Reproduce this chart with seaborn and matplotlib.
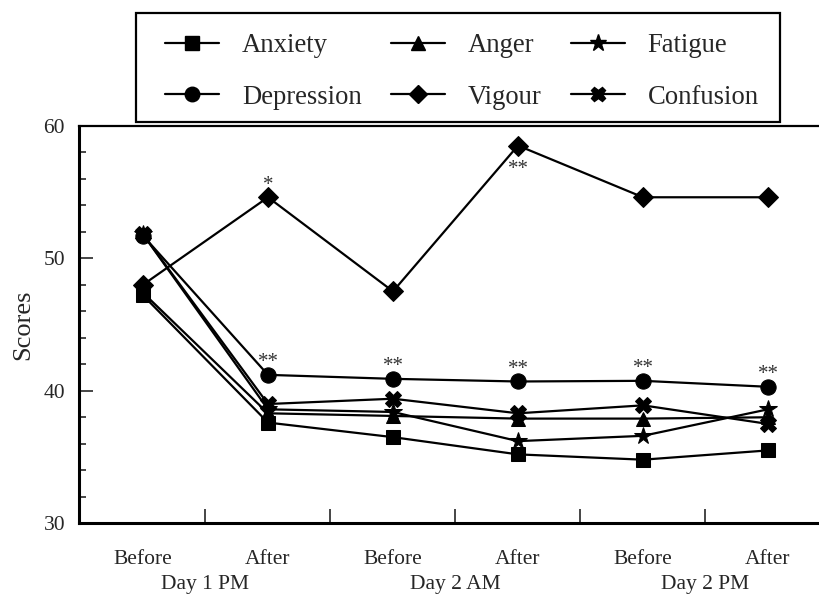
import numpy as np
import pandas as pd
import matplotlib
matplotlib.use("Agg")
import matplotlib.pyplot as plt
import matplotlib.transforms as mtransforms
from matplotlib.patches import Rectangle
from matplotlib.ticker import MultipleLocator
import seaborn as sns

# --- data ---
time_labels = ['Before', 'After', 'Before', 'After', 'Before', 'After']
session_labels = ['Day 1 PM', 'Day 2 AM', 'Day 2 PM']

anxiety = [47.2, 37.6, 36.5, 35.2, 34.8, 35.5]
anger = [47.4, 38.3, 38.1, 37.9, 37.9, 38.0]
fatigue = [51.8, 38.6, 38.4, 36.2, 36.6, 38.6]
depression = [51.7, 41.2, 40.9, 40.7, 40.75, 40.3]
vigour = [48.0, 54.6, 47.5, 58.5, 54.6, 54.6]
confusion = [51.8, 39.0, 39.4, 38.3, 38.9, 37.5]

series_names = ['Anxiety', 'Anger', 'Fatigue', 'Depression', 'Vigour', 'Confusion']
series_values = [anxiety, anger, fatigue, depression, vigour, confusion]
series_markers = ['s', '^', '*', 'o', 'D', 'X']
marker_sizes = [10, 10, 13, 11, 10, 11]

# significance marks: (series, point index, text, above?)
sig_marks = [
    ('Vigour', 1, '*', True),
    ('Vigour', 3, '**', False),
    ('Depression', 1, '**', True),
    ('Depression', 2, '**', True),
    ('Depression', 3, '**', True),
    ('Depression', 4, '**', True),
    ('Depression', 5, '**', True),
]

sns.set_style('white')
plt.rcParams['font.family'] = ['Liberation Serif', 'DejaVu Serif']

W, H = 820, 594
fig = plt.figure(figsize=(W / 100, H / 100), dpi=100)
ax = fig.add_axes([79 / W, 1 - 523.3 / H, 1 - 79 / W, (523.3 - 125.7) / H])

x_pos = np.arange(len(time_labels))
rows = []
for name, vals in zip(series_names, series_values):
    for xp, v in zip(x_pos, vals):
        rows.append({'scale': name, 'pos': xp, 'score': v})
df = pd.DataFrame(rows)

handles = {}
for name, mk, ms in zip(series_names, series_markers, marker_sizes):
    sub = df[df['scale'] == name]
    sns.lineplot(data=sub, x='pos', y='score', color='black', linewidth=1.6,
                 marker=mk, markersize=ms, markeredgecolor='black',
                 markerfacecolor='black', ax=ax, legend=False)
    handles[name] = plt.Line2D([], [], color='black', linewidth=1.6, marker=mk,
                               markersize=ms * 0.95, markerfacecolor='black',
                               markeredgecolor='black')

for name, idx, txt, above in sig_marks:
    val = series_values[series_names.index(name)][idx]
    off = 8.6 if above else -17.3
    ax.annotate(txt, (x_pos[idx], val), xytext=(0, off), textcoords='offset points',
                ha='center', va='center', fontsize=15, color='#333333')

ax.set_xlim(-0.512, 5.416)
ax.set_ylim(30, 60)

# axis ticks
ax.set_xticks(x_pos, labels=time_labels)
ax.set_xticks(x_pos[:-1] + 0.5, minor=True)
ax.tick_params(axis='x', which='major', length=0, pad=19.5, labelsize=15.5)
ax.tick_params(axis='x', which='minor', direction='in', length=10, width=1.2)
ax.set_yticks([30, 40, 50, 60])
ax.yaxis.set_minor_locator(MultipleLocator(2))
ax.tick_params(axis='y', which='major', direction='in', length=10, width=1.2,
               pad=10, labelsize=15.5)
ax.tick_params(axis='y', which='minor', direction='in', length=5, width=1.2)
ax.tick_params(left=True, bottom=True, which='both')
ax.set_xlabel('')
ax.set_ylabel('Scores', fontsize=19)
ax.yaxis.label.set(ha='center', va='center', rotation_mode='default')
ax.yaxis.set_label_coords(-0.0756, 0.5)

trans = mtransforms.blended_transform_factory(ax.transData, ax.transAxes)
for i, lab in enumerate(session_labels):
    ax.text(2 * i + 0.5, (523.3 - 589) / (523.3 - 125.7), lab, transform=trans,
            ha='center', va='baseline', fontsize=15.5)

for side in ['left', 'bottom']:
    ax.spines[side].set_linewidth(2.2)
ax.spines['top'].set_linewidth(1.6)
ax.spines['right'].set_visible(False)
for side in ['left', 'bottom', 'top']:
    ax.spines[side].set_color('black')

# legend: frame drawn separately so its box matches the reference
fig.patches.append(Rectangle((136 / W, 1 - 122 / H), (780 - 136) / W, (122 - 13) / H,
                             transform=fig.transFigure, fill=False,
                             edgecolor='black', linewidth=1.6))
legend_order = ['Anxiety', 'Depression', 'Anger', 'Vigour', 'Fatigue', 'Confusion']
leg = fig.legend([handles[n] for n in legend_order], legend_order, ncol=3,
                 loc='upper left', bbox_to_anchor=(165 / W, 1 - 33 / H),
                 frameon=False, fontsize=19.2,
                 handlelength=2.02, handletextpad=0.86, columnspacing=1.1,
                 borderpad=0, labelspacing=1.0, borderaxespad=0)

fig.savefig('out.png', dpi=100, facecolor='white')
